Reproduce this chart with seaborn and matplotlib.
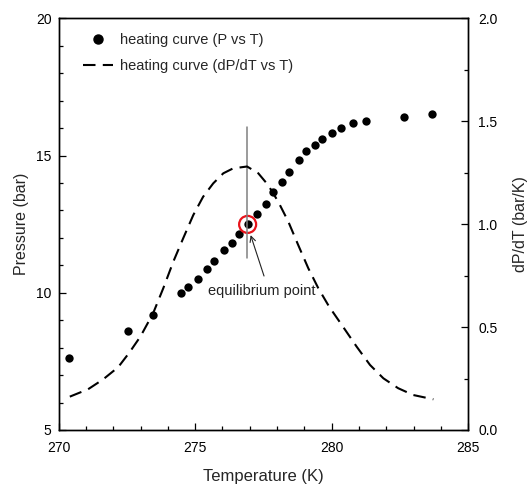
import matplotlib
matplotlib.use('Agg')
import matplotlib.pyplot as plt
from matplotlib.ticker import MultipleLocator
from matplotlib.lines import Line2D
import seaborn as sns
import pandas as pd

# heating curve: temperature (K) vs pressure (bar)
temp_k = [270.38, 272.53, 273.44, 274.48, 274.75, 275.10, 275.44, 275.70, 276.06,
          276.33, 276.61, 276.92, 277.25, 277.58, 277.86, 278.17, 278.44, 278.81,
          279.04, 279.37, 279.65, 280.00, 280.33, 280.77, 281.25, 282.65, 283.68]
pressure_bar = [7.63, 8.61, 9.19, 9.98, 10.22, 10.50, 10.88, 11.17, 11.56,
                11.80, 12.13, 12.49, 12.87, 13.23, 13.66, 14.05, 14.41, 14.84,
                15.18, 15.38, 15.60, 15.81, 15.99, 16.17, 16.26, 16.42, 16.51]

# derivative curve dP/dT (bar/K)
deriv_t = [270.41, 271.08, 271.63, 272.18, 272.59, 273.00, 273.46, 273.83, 274.20,
           274.56, 274.93, 275.29, 275.66, 276.03, 276.39, 276.90, 277.31, 277.67,
           278.04, 278.41, 278.77, 279.14, 279.51, 279.90, 280.42, 280.91, 281.40,
           281.89, 282.43, 282.98, 283.72]
deriv_val = [0.162, 0.198, 0.246, 0.305, 0.376, 0.455, 0.567, 0.688, 0.818,
             0.931, 1.044, 1.133, 1.198, 1.247, 1.271, 1.280, 1.247, 1.190,
             1.109, 1.012, 0.899, 0.786, 0.688, 0.600, 0.500, 0.405, 0.316,
             0.251, 0.203, 0.170, 0.149]

eq_t = 276.92
eq_p = 12.49
vline_t = 276.88
vline_range = [0.834, 1.473]  # on the dP/dT axis

df_p = pd.DataFrame({'T': temp_k, 'P': pressure_bar})
df_d = pd.DataFrame({'T': deriv_t, 'dPdT': deriv_val})

sns.set_style('ticks')
plt.rcParams['font.family'] = ['Liberation Sans', 'DejaVu Sans']

fig = plt.figure(figsize=(5.28, 4.84), dpi=100)
ax = fig.add_axes([0.111, 0.1116, 0.776, 0.8506])
ax2 = ax.twinx()

sns.scatterplot(data=df_p, x='T', y='P', ax=ax, color='black', s=36,
                edgecolor='black', linewidth=0, zorder=4, legend=False)
ax2.plot([vline_t, vline_t], vline_range, color='#808080', lw=1.1, zorder=1)
sns.lineplot(data=df_d, x='T', y='dPdT', ax=ax2, color='black', lw=1.5,
             legend=False, sort=False)
ax2.lines[-1].set_dashes([6, 3.5])

# equilibrium point highlight
ax.scatter([eq_t], [eq_p], s=150, facecolors='none', edgecolors='#e8141b',
           linewidths=1.6, zorder=5)
ax.text(277.45, 10.06, 'equilibrium point', ha='center', va='center',
        fontsize=10.5, color='#222222')
ax.annotate('', xy=(277.03, 12.10), xytext=(277.52, 10.61),
            arrowprops=dict(arrowstyle='->', color='#222222', lw=0.8,
                            shrinkA=0, shrinkB=0))

ax.set_xlim(270, 285)
ax.set_ylim(5, 20)
ax2.set_ylim(0, 2.0)
ax.xaxis.set_major_locator(MultipleLocator(5))
ax.xaxis.set_minor_locator(MultipleLocator(1))
ax.yaxis.set_major_locator(MultipleLocator(5))
ax.yaxis.set_minor_locator(MultipleLocator(1))
ax2.yaxis.set_major_locator(MultipleLocator(0.5))
ax2.yaxis.set_minor_locator(MultipleLocator(0.25))
ax2.set_yticks([0, 0.5, 1.0, 1.5, 2.0])
ax2.set_yticklabels(['0.0', '0.5', '1.0', '1.5', '2.0'])

for a in (ax, ax2):
    a.tick_params(which='major', direction='in', length=5, width=0.9,
                  color='black', labelcolor='black', labelsize=10)
    a.tick_params(which='minor', direction='in', length=3, width=0.9,
                  color='black')
    for sp in a.spines.values():
        sp.set_visible(True)
        sp.set_linewidth(1.0)
        sp.set_color('black')
ax.tick_params(which='both', bottom=True, left=True, top=False, right=False)
ax.tick_params(axis='x', pad=8)
ax.tick_params(axis='y', pad=5)
ax2.tick_params(which='both', right=True, left=False, top=False, pad=7)

ax.set_xlabel('Temperature (K)', fontsize=12, labelpad=10)
ax.set_ylabel('Pressure (bar)', fontsize=11.5, labelpad=5)
ax2.set_ylabel('dP/dT (bar/K)', fontsize=11.5, labelpad=11)

# legend
handles = [Line2D([], [], marker='o', ls='none', color='black', markersize=6.5),
           Line2D([], [], ls=(0, (6, 3.5)), color='black', lw=1.5)]
ax.legend(handles, ['heating curve (P vs T)', 'heating curve (dP/dT vs T)'],
          loc='upper left', frameon=False, fontsize=10.5, handlelength=2.05,
          handletextpad=0.5, borderaxespad=0.6, labelspacing=0.85,
          bbox_to_anchor=(0.024, 1.0))

fig.savefig('out.png', dpi=100)
